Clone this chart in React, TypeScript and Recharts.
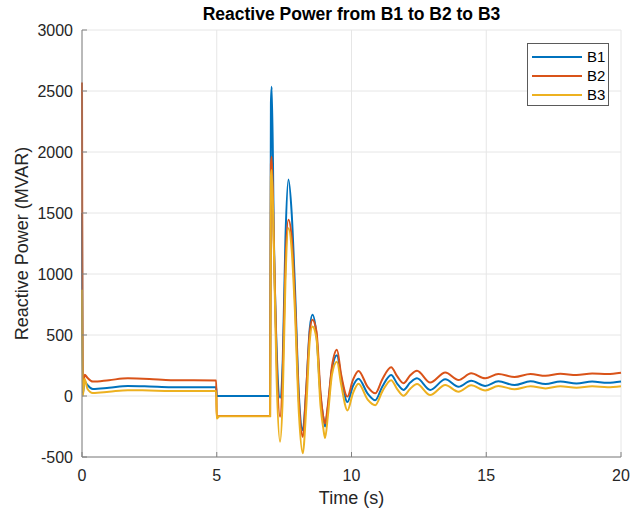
import { LineChart, Line, XAxis, YAxis, CartesianGrid } from "recharts";

const time = [
  0, 0.03, 0.1, 0.2, 0.4, 1.0, 1.7, 2.5, 3.3, 4.98, 5.0, 5.1, 6.98, 7.01, 7.04,
  7.12, 7.22, 7.35, 7.45, 7.55, 7.66, 7.78, 7.9, 8.05, 8.19, 8.32, 8.45, 8.55,
  8.7, 8.85, 8.95, 9.02, 9.12, 9.28, 9.46, 9.62, 9.85, 10.05, 10.26, 10.6,
  10.88, 11.15, 11.47, 11.7, 11.93, 12.18, 12.43, 12.92, 13.48, 13.97, 14.44,
  14.96, 15.45, 16.05, 16.64, 17.2, 17.75, 18.35, 18.93, 19.5, 20,
];
const b1 = [
  1500, 20, 120, 90, 58, 68, 82, 78, 72, 72, 0, 0, 0, 2400, 2535,
  1300, 400, -15, 300, 1300, 1775, 1500, 900, 0, -280, 50, 550, 665,
  500, 0, -170, -250, -100, 230, 335, 150, -50, 80, 142, 20,
  -35, 80, 172, 100, 50, 110, 145, 50, 137, 76, 125,
  82, 120, 90, 120, 98, 118, 102, 118, 108, 118,
];
const b2 = [
  2570, 60, 175, 150, 118, 130, 145, 140, 130, 128, -175, -163, -163, 1900, 1962,
  1250, 300, -170, 200, 1100, 1445, 1300, 800, -50, -335, 50, 520, 625,
  530, 30, -170, -225, -80, 250, 380, 170, -5, 130, 205, 75,
  22, 140, 235, 160, 105, 170, 207, 110, 192, 131, 186,
  145, 180, 155, 180, 165, 182, 172, 185, 180, 190,
];
const b3 = [
  870, 0, 140, 60, 25, 35, 48, 45, 42, 42, -185, -166, -166, 1800, 1852,
  1200, 150, -375, 0, 950, 1375, 1200, 700, -150, -470, -100, 450, 570,
  470, -80, -260, -345, -170, 180, 280, 90, -118, 20, 100, -30,
  -75, 40, 130, 55, 2, 60, 98, 8, 90, 35, 88,
  45, 82, 55, 80, 62, 80, 68, 80, 72, 80,
];
const xTicks = [0, 5, 10, 15, 20];
const yTicks = [-500, 0, 500, 1000, 1500, 2000, 2500, 3000];

const series = [
  { key: "B1", color: "#0072BD" },
  { key: "B2", color: "#D95319" },
  { key: "B3", color: "#EDB120" },
];

const rows = time.map((t, i) => ({ t, B1: b1[i], B2: b2[i], B3: b3[i] }));

const font = "'Liberation Sans', Arial, Helvetica, sans-serif";
const axisColor = "#808080";
const textColor = "#262626";

function LegendBox() {
  return (
    <div
      style={{
        position: "absolute",
        left: 527,
        top: 43,
        width: 82,
        height: 63,
        border: "1px solid #5a5a5a",
        background: "#fff",
        fontFamily: font,
        fontSize: 15,
        color: "#000",
        boxSizing: "border-box",
        paddingTop: 3,
      }}
    >
      {series.map((s) => (
        <div key={s.key} style={{ display: "flex", alignItems: "center", height: 19 }}>
          <div style={{ width: 50, height: 2, background: s.color, marginLeft: 4, marginRight: 5 }} />
          <span>{s.key}</span>
        </div>
      ))}
    </div>
  );
}

export default function App() {
  return (
    <div style={{ position: "absolute", left: 0, top: 0, width: 633, height: 511, background: "#fff" }}>
      <div
        style={{
          position: "absolute",
          left: 82,
          width: 539,
          top: 4,
          textAlign: "center",
          fontFamily: font,
          fontSize: 17.5,
          fontWeight: "bold",
          color: "#000",
        }}
      >
        Reactive Power from B1 to B2 to B3
      </div>
      <LineChart
        width={633}
        height={511}
        data={rows}
        margin={{ top: 30, right: 12, bottom: 0, left: 0 }}
        style={{ fontFamily: font }}
      >
        <CartesianGrid stroke="#e6e6e6" />
        <XAxis
          dataKey="t"
          type="number"
          domain={[0, 20]}
          ticks={xTicks}
          height={54}
          stroke={axisColor}
          tickSize={-5}
          tickMargin={18}
          tick={{ fill: textColor, fontSize: 16 }}
          label={{ value: "Time (s)", position: "insideBottom", offset: 7, fill: textColor, fontSize: 18 }}
        />
        <XAxis
          xAxisId="top"
          orientation="top"
          dataKey="t"
          type="number"
          domain={[0, 20]}
          ticks={xTicks}
          height={0}
          stroke={axisColor}
          tickSize={-5}
          tickFormatter={() => ""}
        />
        <YAxis
          type="number"
          domain={[-500, 3000]}
          ticks={yTicks}
          width={82}
          stroke={axisColor}
          tickSize={-5}
          tickMargin={14}
          tick={{ fill: textColor, fontSize: 16 }}
          label={{
            value: "Reactive Power (MVAR)",
            angle: -90,
            position: "insideLeft",
            offset: 22,
            fill: textColor,
            fontSize: 18,
            style: { textAnchor: "middle" },
          }}
        />
        <YAxis
          yAxisId="right"
          orientation="right"
          type="number"
          domain={[-500, 3000]}
          ticks={yTicks}
          width={0}
          stroke={axisColor}
          tickSize={-5}
          tickFormatter={() => ""}
        />
        {series.map((s) => (
          <Line
            key={s.key}
            dataKey={s.key}
            type="monotone"
            stroke={s.color}
            strokeWidth={2}
            dot={false}
            isAnimationActive={false}
          />
        ))}
      </LineChart>
      <LegendBox />
    </div>
  );
}
